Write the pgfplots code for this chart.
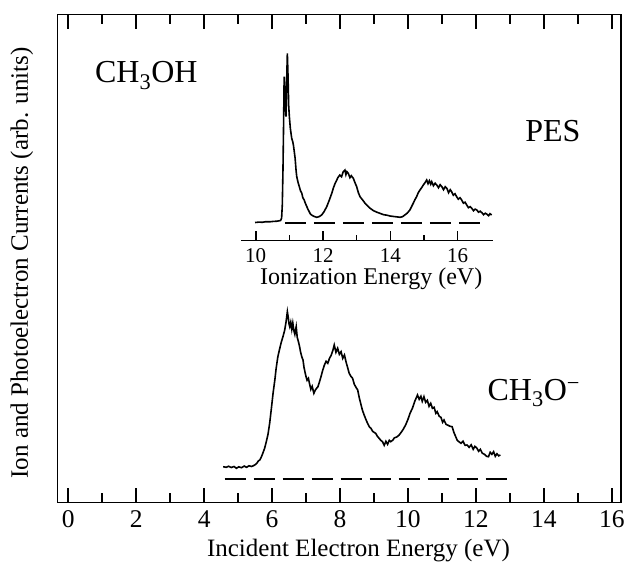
\documentclass[border=0pt]{standalone}
\usepackage{fontspec}
\setmainfont{Liberation Serif}
\usepackage{pgfplots}
\pgfplotsset{compat=1.18}

\begin{document}
\begin{tikzpicture}
\path[use as bounding box] (0pt,0pt) rectangle (625pt,566pt);

% main panel: y is in pixels above the bottom frame
\begin{axis}[
  at={(57.7pt,63.7pt)}, anchor=south west,
  scale only axis, width=563.3pt, height=487.6pt,
  xmin=-0.31, xmax=16.27, ymin=0, ymax=487.6,
  xtick={0,2,...,16}, minor x tick num=1,
  ytick=\empty,
  tick align=inside,
  major tick length=14.7pt, minor tick length=9pt,
  every tick/.style={black, line width=1.6pt},
  axis line style={line width=1.5pt},
  /pgf/number format/assume math mode=true,
  xticklabel style={font=\fontsize{25.5}{30}\selectfont, yshift=-5pt},
  xlabel={Incident Electron Energy (eV)},
  xlabel style={font=\fontsize{25}{30}\selectfont, at={(axis description cs:0.534,0)}, anchor=base, yshift=-54.5pt},
  ylabel={Ion and Photoelectron Currents (arb. units)},
  ylabel style={font=\fontsize{25}{30}\selectfont, at={(axis description cs:-0.0634,0.4908)}, anchor=center},
  clip=false,
]
% CH3O- ion yield
\addplot[black, line width=1.6pt] coordinates {
(4.56,35.6) (4.65,35.0) (4.72,36.0) (4.80,34.8) (4.88,35.8) (4.95,34.0)
(5.02,35.5) (5.10,34.6) (5.18,36.2) (5.25,35.0) (5.32,36.5) (5.40,35.8)
(5.49,37.3) (5.55,39.0) (5.60,41.5) (5.64,42.3) (5.68,45.0) (5.73,49.3)
(5.78,54.0) (5.83,60.6) (5.88,68.0) (5.93,79.3) (5.98,94.0) (6.03,109.3)
(6.08,122.0) (6.12,134.0) (6.17,145.6) (6.22,153.0) (6.27,160.0) (6.32,165.6)
(6.37,172.0) (6.41,180.0) (6.45,190.6) (6.48,184.0) (6.50,178.0) (6.52,175.6)
(6.55,180.0) (6.58,173.0) (6.61,179.3) (6.64,172.0) (6.67,168.0) (6.71,175.6)
(6.74,165.0) (6.78,160.0) (6.81,155.6) (6.84,150.0) (6.88,145.0) (6.91,142.3)
(6.94,135.0) (6.97,130.0) (7.00,125.6) (7.03,122.0) (7.07,124.0) (7.10,119.0)
(7.14,113.0) (7.18,116.0) (7.23,109.0) (7.27,112.0) (7.31,114.0) (7.35,115.6)
(7.40,121.0) (7.44,125.6) (7.49,132.0) (7.54,137.3) (7.59,141.0) (7.64,139.0)
(7.69,144.0) (7.74,147.0) (7.79,152.0) (7.83,157.3) (7.88,150.0) (7.93,154.0)
(7.98,148.0) (8.03,150.6) (8.08,144.0) (8.13,147.3) (8.18,140.0) (8.23,134.0)
(8.27,129.0) (8.32,126.0) (8.37,124.0) (8.42,118.0) (8.47,115.0) (8.52,112.3)
(8.57,104.0) (8.62,97.3) (8.66,92.0) (8.71,87.3) (8.76,83.0) (8.81,79.0)
(8.86,75.6) (8.91,74.0) (8.96,71.0) (9.00,70.0) (9.05,69.0) (9.10,66.0)
(9.15,64.0) (9.20,62.0) (9.25,60.6) (9.30,57.0) (9.35,61.0) (9.40,58.0)
(9.45,62.0) (9.49,60.6) (9.55,62.0) (9.60,64.5) (9.65,65.0) (9.70,66.0)
(9.74,67.3) (9.80,70.0) (9.86,73.0) (9.93,77.3) (10.00,83.0) (10.06,89.0)
(10.13,94.0) (10.20,101.0) (10.28,107.3) (10.33,103.0) (10.38,106.0) (10.42,101.0)
(10.47,105.6) (10.52,100.0) (10.57,102.0) (10.62,96.0) (10.67,99.0) (10.72,94.0)
(10.77,95.0) (10.82,89.0) (10.86,90.6) (10.92,86.0) (10.97,85.0) (11.02,80.0)
(11.06,82.3) (11.12,78.0) (11.18,77.0) (11.24,76.0) (11.30,75.6) (11.35,70.0)
(11.40,66.0) (11.45,62.0) (11.50,60.6) (11.56,59.0) (11.62,61.0) (11.68,57.0)
(11.74,57.3) (11.80,55.0) (11.86,57.5) (11.92,53.0) (11.97,56.0) (12.03,54.0)
(12.08,51.0) (12.13,53.0) (12.19,49.0) (12.25,48.0) (12.31,46.0) (12.37,45.6)
(12.42,50.0) (12.47,48.0) (12.52,50.6) (12.57,46.0) (12.62,48.5) (12.67,46.5)
(12.72,47.3)
};
% zero line
\addplot[black, line width=1.6pt, dash pattern=on 21pt off 8pt] coordinates {(4.6,23.3) (12.95,23.3)};

\node[font=\fontsize{32}{36}\selectfont, anchor=base west, inner sep=0pt] at (axis cs:0.786,419.3) {CH\textsubscript{3}OH};
\node[font=\fontsize{32}{36}\selectfont, anchor=base west, inner sep=0pt] at (axis cs:13.45,360.3) {PES};
\node[font=\fontsize{32}{36}\selectfont, anchor=base east, inner sep=0pt] at (axis cs:15.07,102.3) {CH\textsubscript{3}O\textsuperscript{\char"2212}};
\end{axis}

% inset: photoelectron spectrum
\begin{axis}[
  at={(241pt,325.3pt)}, anchor=south west,
  scale only axis, width=252pt, height=200pt,
  xmin=9.563, xmax=17.05, ymin=0, ymax=200,
  axis x line=bottom, axis y line=none,
  x axis line style={-, line width=1.5pt},
  xtick={10,12,14,16}, minor xtick={11,13,15},
  ytick=\empty,
  tick align=inside,
  major tick length=10pt, minor tick length=6pt,
  every tick/.style={black, line width=1.6pt},
  /pgf/number format/assume math mode=true,
  xticklabel style={font=\fontsize{21}{25}\selectfont, yshift=-4.5pt},
  xlabel={Ionization Energy (eV)},
  xlabel style={font=\fontsize{24}{28}\selectfont, at={(axis description cs:0.5,0)}, anchor=base, yshift=-44.3pt, xshift=4.2pt},
  clip=false,
]
\addplot[black, line width=1.6pt] coordinates {
(9.98,18.2) (10.10,18.6) (10.19,18.4) (10.30,19.0) (10.42,18.9) (10.52,19.3)
(10.63,19.5) (10.74,20.2) (10.77,22.7) (10.79,35.7) (10.81,70.7) (10.83,120.7)
(10.845,164) (10.87,150) (10.90,124) (10.92,160) (10.94,187.4) (10.96,165)
(10.98,135) (11.00,124) (11.03,112) (11.07,102.4) (11.10,99) (11.12,95.7)
(11.15,88) (11.17,82.7) (11.20,70) (11.22,64) (11.26,58) (11.29,54.7)
(11.33,50) (11.37,47.4) (11.40,43) (11.44,40.7) (11.48,37) (11.52,34)
(11.55,31.5) (11.58,29.7) (11.62,27) (11.66,25.7) (11.72,24.5) (11.81,23.4)
(11.88,24) (11.96,25.7) (12.03,29) (12.11,34) (12.18,40) (12.26,47.4)
(12.31,53) (12.36,57.4) (12.40,60) (12.44,63) (12.50,65.7) (12.55,64)
(12.60,69) (12.65,70.7) (12.68,66) (12.71,69) (12.75,67.4) (12.80,63)
(12.84,65) (12.90,62.4) (12.95,58) (13.00,54) (13.05,48) (13.10,44)
(13.17,41) (13.25,37.4) (13.32,35) (13.40,32.4) (13.50,30) (13.60,28.5)
(13.69,27.4) (13.80,26) (13.90,25.5) (13.99,24.7) (14.10,24.2) (14.20,23.8)
(14.29,23.4) (14.36,24) (14.43,25.7) (14.50,27.5) (14.58,30.7) (14.63,34)
(14.68,37.4) (14.73,41) (14.78,44) (14.83,48) (14.88,50.7) (14.93,53)
(14.98,55.7) (15.03,58) (15.08,60.7) (15.12,57) (15.16,60) (15.20,56.5)
(15.23,59) (15.28,55) (15.33,57.5) (15.38,55.7) (15.43,53) (15.48,56)
(15.53,54) (15.58,51) (15.63,54) (15.68,52.4) (15.73,48) (15.78,51)
(15.82,49) (15.87,45.5) (15.92,47) (15.97,44) (16.02,41.5) (16.07,43)
(16.12,40.7) (16.17,37.5) (16.22,38.5) (16.27,35.7) (16.32,33) (16.37,34)
(16.42,32.4) (16.47,30) (16.52,31.5) (16.57,30.7) (16.62,28.5) (16.67,29.5)
(16.72,28) (16.77,26) (16.82,27.5) (16.86,26.7) (16.92,25) (16.96,27)
(17.01,25.7)
};
\addplot[black, line width=1.6pt, dash pattern=on 21.5pt off 7.5pt] coordinates {(10.87,17.4) (16.76,17.4)};
\end{axis}
\end{tikzpicture}
\end{document}
